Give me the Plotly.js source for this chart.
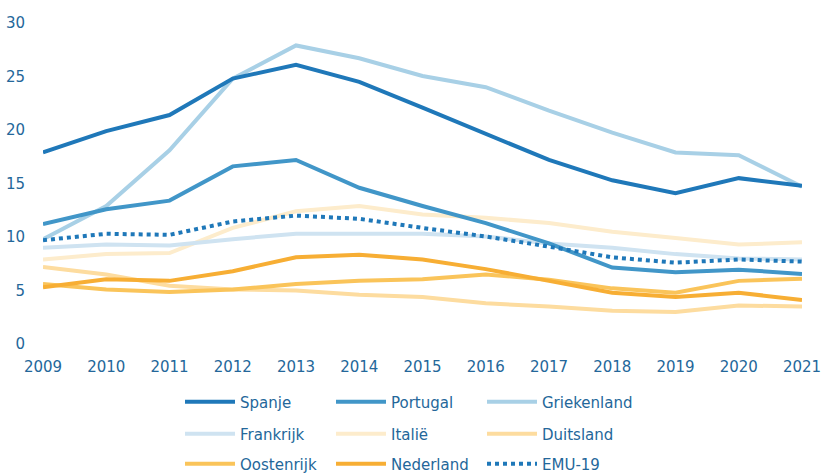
<!DOCTYPE html>
<html>
<head>
<meta charset="utf-8">
<script src="https://cdn.plot.ly/plotly-3.0.1.min.js"></script>
<style>html,body{margin:0;padding:0;background:#fff}#chart{width:821px;height:473px}</style>
</head>
<body>
<div id="chart"></div>
<script>
const years = [2009,2010,2011,2012,2013,2014,2015,2016,2017,2018,2019,2020,2021];
const spanje      = [17.9,19.9,21.4,24.8,26.1,24.5,22.1,19.6,17.2,15.3,14.1,15.5,14.8];
const portugal    = [11.2,12.6,13.4,16.6,17.2,14.6,12.9,11.3,9.4,7.15,6.7,6.95,6.55];
const griekenland = [9.8,12.9,18.1,24.8,27.9,26.7,25.05,24.0,21.8,19.75,17.9,17.65,14.7];
const frankrijk   = [9.0,9.3,9.2,9.8,10.3,10.3,10.3,10.05,9.4,9.0,8.4,8.0,7.9];
const italie      = [7.9,8.4,8.5,10.85,12.4,12.9,12.1,11.8,11.3,10.5,9.9,9.3,9.5];
const duitsland   = [7.2,6.5,5.45,5.1,5.0,4.6,4.4,3.8,3.5,3.1,3.0,3.6,3.5];
const oostenrijk  = [5.6,5.1,4.85,5.1,5.6,5.9,6.05,6.5,6.0,5.2,4.8,5.9,6.1];
const nederland   = [5.3,6.05,5.9,6.8,8.1,8.35,7.9,7.0,5.9,4.8,4.4,4.8,4.1];
const emu19       = [9.7,10.3,10.2,11.45,12.0,11.7,10.85,10.05,9.1,8.1,7.6,7.9,7.7];

const names = ['Spanje','Portugal','Griekenland','Frankrijk','Italië','Duitsland','Oostenrijk','Nederland','EMU-19'];
const series = [spanje,portugal,griekenland,frankrijk,italie,duitsland,oostenrijk,nederland,emu19];
const colors = ['#1f78b9','#4196c8','#a8d0e6','#cfe3f1','#fdeccc','#fddc9f','#fac45a','#f7ae34','#1f78b9'];
const dashes = ['solid','solid','solid','solid','solid','solid','solid','solid','dot'];
const legendOf = ['legend','legend','legend','legend2','legend2','legend2','legend3','legend3','legend3'];

// draw order: light lines first, strong on top
const order = [4,3,5,6,7,2,1,0,8];
const traces = [];
order.forEach(i => {
  traces.push({
    x: years, y: series[i], name: names[i], type: 'scatter', mode: 'lines',
    legend: legendOf[i], legendrank: i+1,
    line: {color: colors[i], width: 4, dash: dashes[i]}
  });
});

const tickColor = '#24679a';
function leg(yc) {
  return {
    orientation: 'h', xref: 'container', yref: 'container',
    x: 180/821, xanchor: 'left', y: 1 - yc/473, yanchor: 'middle',
    entrywidth: 86, entrywidthmode: 'pixels', itemwidth: 50,
    font: {size: 15, color: tickColor}, traceorder: 'normal',
    bgcolor: 'rgba(0,0,0,0)', borderwidth: 0
  };
}
const layout = {
  width: 821, height: 473,
  margin: {l: 43, r: 19, t: 23, b: 129},
  paper_bgcolor: '#fff', plot_bgcolor: '#fff',
  font: {family: 'DejaVu Sans, Verdana, sans-serif', size: 15, color: tickColor},
  showlegend: true,
  xaxis: {
    range: [2009, 2021], tickvals: years, ticktext: years.map(String),
    showgrid: false, zeroline: false, showline: false, automargin: false,
    ticklabeloverflow: 'allow',
    ticks: 'outside', ticklen: 9, tickcolor: 'rgba(0,0,0,0)',
    tickfont: {size: 15, color: tickColor}, fixedrange: true
  },
  yaxis: {
    range: [0, 30], tickvals: [0,5,10,15,20,25,30], showgrid: false, zeroline: false,
    showline: false, automargin: false, ticklabeloverflow: 'allow',
    ticks: 'outside', ticklen: 14, tickcolor: 'rgba(0,0,0,0)',
    tickfont: {size: 15, color: tickColor}, fixedrange: true
  },
  legend: leg(402),
  legend2: leg(434),
  legend3: leg(464)
};
Plotly.newPlot('chart', traces, layout, {staticPlot: true});
</script>
</body>
</html>
